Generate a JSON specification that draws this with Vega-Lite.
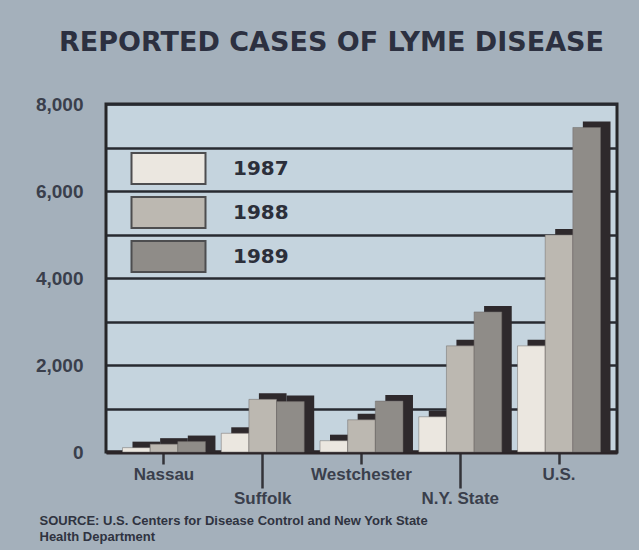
{
  "$schema": "https://vega.github.io/schema/vega-lite/v6.json",
  "width": 511,
  "height": 348,
  "autosize": {"type": "none"},
  "padding": {"left": 106, "top": 104, "right": 22, "bottom": 98},
  "background": "#a4b0bb",
  "title": {
    "text": "REPORTED CASES OF LYME DISEASE",
    "font": "DejaVu Sans",
    "fontWeight": "bold",
    "fontSize": 27,
    "color": "#2c3040",
    "anchor": "middle",
    "frame": "group",
    "dx": -30,
    "offset": 38
  },
  "data": {
    "values": [
      {"region": "Nassau", "year": "1987", "cases": 100},
      {"region": "Nassau", "year": "1988", "cases": 180},
      {"region": "Nassau", "year": "1989", "cases": 240},
      {"region": "Suffolk", "year": "1987", "cases": 430},
      {"region": "Suffolk", "year": "1988", "cases": 1210},
      {"region": "Suffolk", "year": "1989", "cases": 1160},
      {"region": "Westchester", "year": "1987", "cases": 260},
      {"region": "Westchester", "year": "1988", "cases": 740},
      {"region": "Westchester", "year": "1989", "cases": 1170},
      {"region": "N.Y. State", "year": "1987", "cases": 810},
      {"region": "N.Y. State", "year": "1988", "cases": 2440},
      {"region": "N.Y. State", "year": "1989", "cases": 3220},
      {"region": "U.S.", "year": "1987", "cases": 2440},
      {"region": "U.S.", "year": "1988", "cases": 4990},
      {"region": "U.S.", "year": "1989", "cases": 7460}
    ]
  },
  "encoding": {
    "xOffset": {
      "field": "year",
      "type": "nominal",
      "scale": {"paddingInner": 0, "paddingOuter": 0}
    },
    "y": {
      "field": "cases",
      "type": "quantitative",
      "scale": {"domain": [0, 8000], "nice": false},
      "axis": {
        "title": null,
        "values": [0, 1000, 2000, 3000, 4000, 5000, 6000, 7000, 8000],
        "labelExpr": "datum.value % 2000 === 0 ? format(datum.value, ',') : ''",
        "labelFont": "Liberation Sans",
        "labelFontWeight": "bold",
        "labelFontSize": 19,
        "labelColor": "#3a3f4c",
        "labelPadding": 23,
        "ticks": false,
        "domain": false,
        "grid": true,
        "gridColor": "#272a30",
        "gridWidth": 2.5
      }
    }
  },
  "layer": [
    {
      "mark": {"type": "bar", "color": "#2e292c", "yOffset": -6, "y2Offset": 0},
      "encoding": {
        "x": {
          "field": "region",
          "type": "nominal",
          "sort": ["Nassau", "Suffolk", "Westchester", "N.Y. State", "U.S."],
          "scale": {"paddingInner": 0.16, "paddingOuter": 0.167, "align": 0.803},
          "axis": null
        },
        "y2": {"datum": 0}
      }
    },
    {
      "mark": {"type": "bar", "stroke": "#6f6b68", "strokeWidth": 0.5},
      "encoding": {
        "x": {
          "field": "region",
          "type": "nominal",
          "sort": ["Nassau", "Suffolk", "Westchester", "N.Y. State", "U.S."],
          "scale": {"paddingInner": 0.16, "paddingOuter": 0.167},
          "axis": {
            "title": ["SOURCE: U.S. Centers for Disease Control and New York State", "Health Department"],
            "titleFont": "Liberation Sans",
            "titleFontWeight": "bold",
            "titleFontSize": 13,
            "titleColor": "#2f3340",
            "titleAnchor": "start",
            "titleAlign": "left",
            "titleBaseline": "top",
            "titleX": -67,
            "titleY": 62,
            "titleLineHeight": 16,
            "labelAngle": 0,
            "labelFont": "Liberation Sans",
            "labelFontWeight": "bold",
            "labelFontSize": 17,
            "labelColor": "#3a3f4c",
            "labelBaseline": "top",
            "labelPadding": 2,
            "tickColor": "#333338",
            "tickWidth": 2.5,
            "tickSize": {"condition": {"test": "datum.value == 'Suffolk' || datum.value == 'N.Y. State'", "value": 36}, "value": 12},
            "domainColor": "#2b2528",
            "domainWidth": 4,
            "grid": false
          }
        },
        "color": {
          "field": "year",
          "type": "nominal",
          "scale": {"range": ["#ebe7e0", "#bcb8b1", "#8f8c88"]},
          "legend": {
            "orient": "none",
            "legendX": 43,
            "legendY": 45,
            "rowPadding": 3,
            "title": null,
            "symbolType": "M-2,-0.84H2V0.84H-2Z",
            "symbolSize": 1369,
            "symbolStrokeColor": "#4d4d4f",
            "symbolStrokeWidth": 2,
            "symbolOpacity": 1,
            "labelFont": "DejaVu Sans",
            "labelFontWeight": "bold",
            "labelFontSize": 20,
            "labelColor": "#2c2f3a",
            "labelOffset": 45
          }
        }
      }
    }
  ],
  "resolve": {"scale": {"x": "independent"}, "axis": {"x": "independent"}},
  "config": {
    "view": {"fill": "#c5d4de", "stroke": "#262628", "strokeWidth": 3}
  }
}
